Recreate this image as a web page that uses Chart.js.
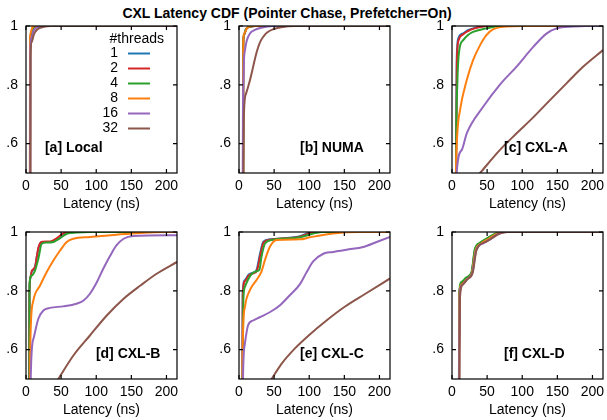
<!DOCTYPE html>
<html>
<head>
<meta charset="utf-8">
<script src="https://cdn.jsdelivr.net/npm/chart.js@4/dist/chart.umd.min.js"></script>
<style>
body{margin:0;background:#fff;width:607px;height:420px;position:relative;overflow:hidden;font-family:"Liberation Sans",Arial,sans-serif}
canvas{position:absolute}
#title{position:absolute;left:0;width:574px;top:5px;text-align:center;font-weight:bold;font-size:14px;line-height:16px;color:#000}
</style>
</head>
<body>
<div id="title">CXL Latency CDF (Pointer Chase, Prefetcher=On)</div>
<canvas id="pa" width="181" height="195" style="left:0;top:18px"></canvas>
<canvas id="pb" width="181" height="195" style="left:213px;top:18px"></canvas>
<canvas id="pc" width="181" height="195" style="left:426px;top:18px"></canvas>
<canvas id="pd" width="181" height="195" style="left:0;top:224px"></canvas>
<canvas id="pe" width="181" height="195" style="left:213px;top:224px"></canvas>
<canvas id="pf" width="181" height="195" style="left:426px;top:224px"></canvas>
<script>
// series names and axis ticks
var threads = ['1', '2', '4', '8', '16', '32'];
var latTicks = [0, 50, 100, 150, 200];
var cdfTicks = [0.6, 0.8, 1];

// [latency ns, cdf] pairs, one list per thread count
var local = [
	[[5.6,0.4],[5.8,0.93],[6.5,0.965],[9,0.99],[15,0.998],[25,1],[215,1]],
	[[5.7,0.4],[5.9,0.93],[6.7,0.965],[9.5,0.99],[16,0.998],[26,1],[215,1]],
	[[5.7,0.4],[5.9,0.935],[6.6,0.968],[9.2,0.99],[15,0.998],[25,1],[215,1]],
	[[5.5,0.4],[5.7,0.94],[6.4,0.975],[9,0.995],[14,1],[215,1]],
	[[6,0.4],[6.2,0.92],[7.5,0.96],[11,0.985],[20,0.998],[30,1],[215,1]],
	[[6.4,0.4],[6.6,0.9],[8,0.945],[11,0.97],[16,0.988],[25,0.997],[35,1],[215,1]]
];
var numa = [
	[[5.8,0.4],[6,0.94],[7,0.97],[10,0.99],[16,0.998],[22,1],[215,1]],
	[[5.9,0.4],[6.1,0.94],[7.2,0.97],[10.5,0.99],[17,0.998],[23,1],[215,1]],
	[[5.9,0.4],[6.1,0.942],[7.1,0.972],[10.2,0.99],[16,0.998],[22,1],[215,1]],
	[[5.9,0.4],[6.1,0.95],[7.5,0.975],[11,0.992],[18,1],[215,1]],
	[[5.2,0.4],[5.6,0.7],[6.2,0.8],[7,0.88],[8.5,0.918],[11,0.95],[15.7,0.975],[22,0.986],[30,0.993],[49,1],[215,1]],
	[[6.1,0.4],[6.3,0.5],[7,0.7],[10,0.77],[15,0.81],[20,0.86],[25,0.91],[30,0.945],[35,0.965],[40,0.978],[50,0.99],[60,0.996],[80,1],[215,1]]
];
var cxlA = [
	[[5.5,0.4],[5.7,0.52],[6.6,0.86],[7.5,0.93],[9,0.958],[16,0.975],[22,0.985],[30,0.992],[49,1],[215,1]],
	[[5.7,0.4],[5.9,0.52],[6.8,0.85],[7.8,0.925],[9.5,0.952],[16,0.972],[23,0.983],[31,0.991],[50,1],[215,1]],
	[[5.6,0.4],[5.8,0.54],[7.6,0.805],[10.4,0.918],[16,0.952],[22,0.968],[30,0.98],[49,0.992],[68,1],[215,1]],
	[[5.2,0.4],[5.6,0.5],[7.6,0.635],[11.4,0.714],[21,0.816],[30,0.884],[40,0.935],[49,0.969],[59,0.989],[78,0.998],[100,1],[215,1]],
	[[6,0.4],[6.6,0.5],[13.8,0.578],[21,0.635],[44.6,0.726],[68,0.8],[92,0.862],[116,0.93],[135,0.975],[149,0.992],[173,0.998],[190,1],[215,1]],
	[[30,0.472],[40,0.5],[68,0.578],[92,0.635],[116,0.69],[139.5,0.748],[163,0.805],[187,0.862],[215,0.918]]
];
var cxlB = [
	[[4.6,0.4],[4.8,0.784],[6,0.84],[8,0.864],[12.8,0.88],[15,0.91],[17.6,0.943],[20,0.96],[22.4,0.966],[34,0.966],[43.8,0.977],[53,0.994],[63,1],[215,1]],
	[[4.7,0.4],[4.9,0.79],[6.2,0.845],[8.3,0.868],[13,0.882],[15.3,0.915],[17.8,0.948],[20.5,0.963],[23,0.967],[35,0.968],[44,0.979],[53,0.995],[62,1],[215,1]],
	[[4.8,0.4],[5,0.82],[8,0.852],[12.8,0.869],[17.6,0.909],[22.4,0.96],[29.5,0.964],[39,0.966],[43.8,0.972],[51,0.983],[58,0.994],[72,0.998],[90,1],[215,1]],
	[[5.5,0.4],[5.7,0.51],[6.7,0.67],[10.5,0.767],[20,0.818],[29.5,0.864],[39,0.903],[48.5,0.937],[58,0.966],[67.5,0.977],[91,0.983],[129,0.991],[163,0.997],[200,1],[215,1]],
	[[6.5,0.4],[6.7,0.5],[10.5,0.636],[17.6,0.705],[24.7,0.733],[34,0.742],[53,0.747],[72,0.756],[82,0.767],[91,0.79],[101,0.83],[110,0.875],[120,0.92],[129,0.955],[139,0.977],[153,0.986],[215,0.989]],
	[[30,0.44],[46,0.5],[67.5,0.58],[91,0.648],[115,0.716],[139,0.773],[163,0.818],[186,0.858],[215,0.898]]
];
var cxlC = [
	[[4.8,0.4],[5,0.6],[5.2,0.79],[8.5,0.837],[13.3,0.854],[20.4,0.862],[25,0.871],[30,0.927],[34.6,0.967],[44,0.975],[87,0.986],[101,0.998],[115,1],[215,1]],
	[[4.9,0.4],[5.1,0.6],[5.4,0.785],[8.8,0.834],[13.8,0.852],[21,0.86],[25.6,0.869],[30.6,0.924],[35.2,0.965],[45,0.974],[88,0.985],[102,0.997],[116,1],[215,1]],
	[[5,0.4],[5.4,0.6],[6.2,0.769],[8.5,0.814],[15.7,0.85],[22.8,0.865],[29,0.871],[32,0.916],[37,0.961],[46.5,0.973],[87,0.982],[106,0.995],[120,1],[215,1]],
	[[4.6,0.4],[5,0.55],[6,0.68],[8.5,0.746],[15.7,0.803],[25,0.837],[32,0.865],[37,0.905],[44,0.95],[53.6,0.973],[87,0.975],[101,0.982],[134,0.995],[170,1],[215,1]],
	[[5.5,0.4],[5.7,0.5],[8,0.614],[12.8,0.682],[20,0.699],[29.5,0.71],[43.8,0.727],[58,0.75],[72,0.784],[86.6,0.822],[96,0.862],[105.6,0.9],[120,0.926],[134,0.932],[153,0.94],[177,0.949],[196,0.966],[215,0.983]],
	[[36,0.461],[46.5,0.5],[60,0.55],[80,0.605],[100,0.65],[125,0.7],[150,0.745],[180,0.79],[215,0.842]]
];
var cxlD = [
	[[9.8,0.4],[10,0.6],[10.4,0.786],[13.8,0.825],[21,0.842],[28,0.862],[32.7,0.939],[40,0.961],[51.7,0.978],[63.6,0.995],[75,1],[215,1]],
	[[9.9,0.4],[10.1,0.6],[10.5,0.788],[14,0.826],[21.2,0.843],[28.2,0.863],[33,0.94],[40.5,0.962],[52,0.979],[64,0.995],[76,1],[215,1]],
	[[9.8,0.4],[10,0.6],[10.3,0.79],[13.5,0.83],[20.5,0.846],[27.8,0.864],[32.5,0.942],[39.5,0.963],[51,0.98],[63,0.996],[74,1],[215,1]],
	[[10,0.4],[10.2,0.6],[10.6,0.784],[14,0.822],[21.5,0.84],[28.5,0.861],[33.5,0.937],[41,0.96],[52.5,0.977],[65,0.995],[77,1],[215,1]],
	[[10.2,0.4],[10.4,0.6],[10.9,0.782],[14.5,0.82],[21.8,0.84],[29,0.861],[34.2,0.936],[45,0.962],[55,0.976],[66,0.994],[78,1],[215,1]],
	[[10.6,0.4],[10.8,0.6],[11.4,0.78],[15,0.82],[22,0.84],[29.5,0.862],[35,0.939],[49,0.967],[68,0.995],[80,1],[215,1]]
];

var colors = ['#1f77b4', '#d62728', '#2ca02c', '#ff7f0e', '#9467bd', '#8c564b'];

Chart.defaults.font.family = '"Liberation Sans", Arial, sans-serif';
Chart.defaults.font.size = 14;
Chart.defaults.color = '#000';

// box, inward ticks, panel label and key
var frame = {
	id: 'frame',
	afterDatasetsDraw: function(chart, args, opts) {
		var ctx = chart.ctx, a = chart.chartArea;
		var x = chart.scales.x, y = chart.scales.y;
		ctx.save();
		ctx.strokeStyle = '#000';
		ctx.lineWidth = 1.2;
		ctx.strokeRect(a.left, a.top, a.right - a.left, a.bottom - a.top);
		ctx.beginPath();
		latTicks.forEach(function(v) {
			var px = x.getPixelForValue(v);
			ctx.moveTo(px, a.bottom); ctx.lineTo(px, a.bottom - 4);
			ctx.moveTo(px, a.top); ctx.lineTo(px, a.top + 4);
		});
		cdfTicks.forEach(function(v) {
			var py = y.getPixelForValue(v);
			ctx.moveTo(a.left, py); ctx.lineTo(a.left + 4, py);
			ctx.moveTo(a.right, py); ctx.lineTo(a.right - 4, py);
		});
		ctx.stroke();

		ctx.fillStyle = '#000';
		ctx.textBaseline = 'middle';
		ctx.font = 'bold 14px "Liberation Sans", Arial, sans-serif';
		ctx.textAlign = 'left';
		ctx.fillText(opts.label, x.getPixelForValue(opts.lx), y.getPixelForValue(0.583));

		if (opts.key) {
			ctx.font = '14px "Liberation Sans", Arial, sans-serif';
			ctx.textAlign = 'right';
			ctx.fillText('#threads', 164, 21.5);
			chart.data.datasets.forEach(function(ds, i) {
				var yy = 35.5 + i * 15;
				ctx.fillStyle = '#000';
				ctx.fillText(ds.label, 118, yy);
				ctx.strokeStyle = ds.borderColor;
				ctx.lineWidth = 2;
				ctx.beginPath();
				ctx.moveTo(128, yy); ctx.lineTo(150, yy);
				ctx.stroke();
			});
		}
		ctx.restore();
	}
};

function noPad(s) {
	s.paddingTop = 0; s.paddingBottom = 0;
	s.paddingLeft = 0; s.paddingRight = 0;
}

function panel(id, series, label, lx, key) {
	new Chart(document.getElementById(id), {
		type: 'line',
		data: {
			datasets: series.map(function(s, i) {
				return {
					label: threads[i],
					data: s.map(function(p) { return {x: p[0], y: p[1]}; }),
					borderColor: colors[i],
					borderWidth: 2,
					pointRadius: 0,
					fill: false,
					cubicInterpolationMode: 'monotone',
					order: -i
				};
			})
		},
		options: {
			responsive: false,
			animation: false,
			events: [],
			layout: {padding: {top: 8, right: 4, left: 0, bottom: 0}},
			plugins: {
				legend: {display: false},
				tooltip: {enabled: false},
				frame: {label: label, lx: lx, key: key}
			},
			scales: {
				x: {
					type: 'linear', min: 0, max: 215,
					grid: {display: false, drawTicks: false},
					border: {display: false},
					afterBuildTicks: function(s) { s.ticks = latTicks.map(function(v) { return {value: v}; }); },
					afterFit: function(s) { s.height = 40; noPad(s); },
					ticks: {padding: 5, maxRotation: 0, autoSkip: false},
					title: {display: true, text: 'Latency (ns)', padding: {top: 0, bottom: 0}}
				},
				y: {
					type: 'linear', min: 0.5, max: 1,
					grid: {display: false, drawTicks: false},
					border: {display: false},
					afterBuildTicks: function(s) { s.ticks = cdfTicks.map(function(v) { return {value: v}; }); },
					afterFit: function(s) { s.width = 26; noPad(s); },
					ticks: {
						padding: 8,
						callback: function(v) { return v === 1 ? '1' : String(v).replace('0.', '.'); }
					}
				}
			}
		},
		plugins: [frame]
	});
}

panel('pa', local, '[a] Local', 27, true);
panel('pb', numa, '[b] NUMA', 87, false);
panel('pc', cxlA, '[c] CXL-A', 74, false);
panel('pd', cxlB, '[d] CXL-B', 99.5, false);
panel('pe', cxlC, '[e] CXL-C', 87, false);
panel('pf', cxlD, '[f] CXL-D', 74, false);
</script>
</body>
</html>
